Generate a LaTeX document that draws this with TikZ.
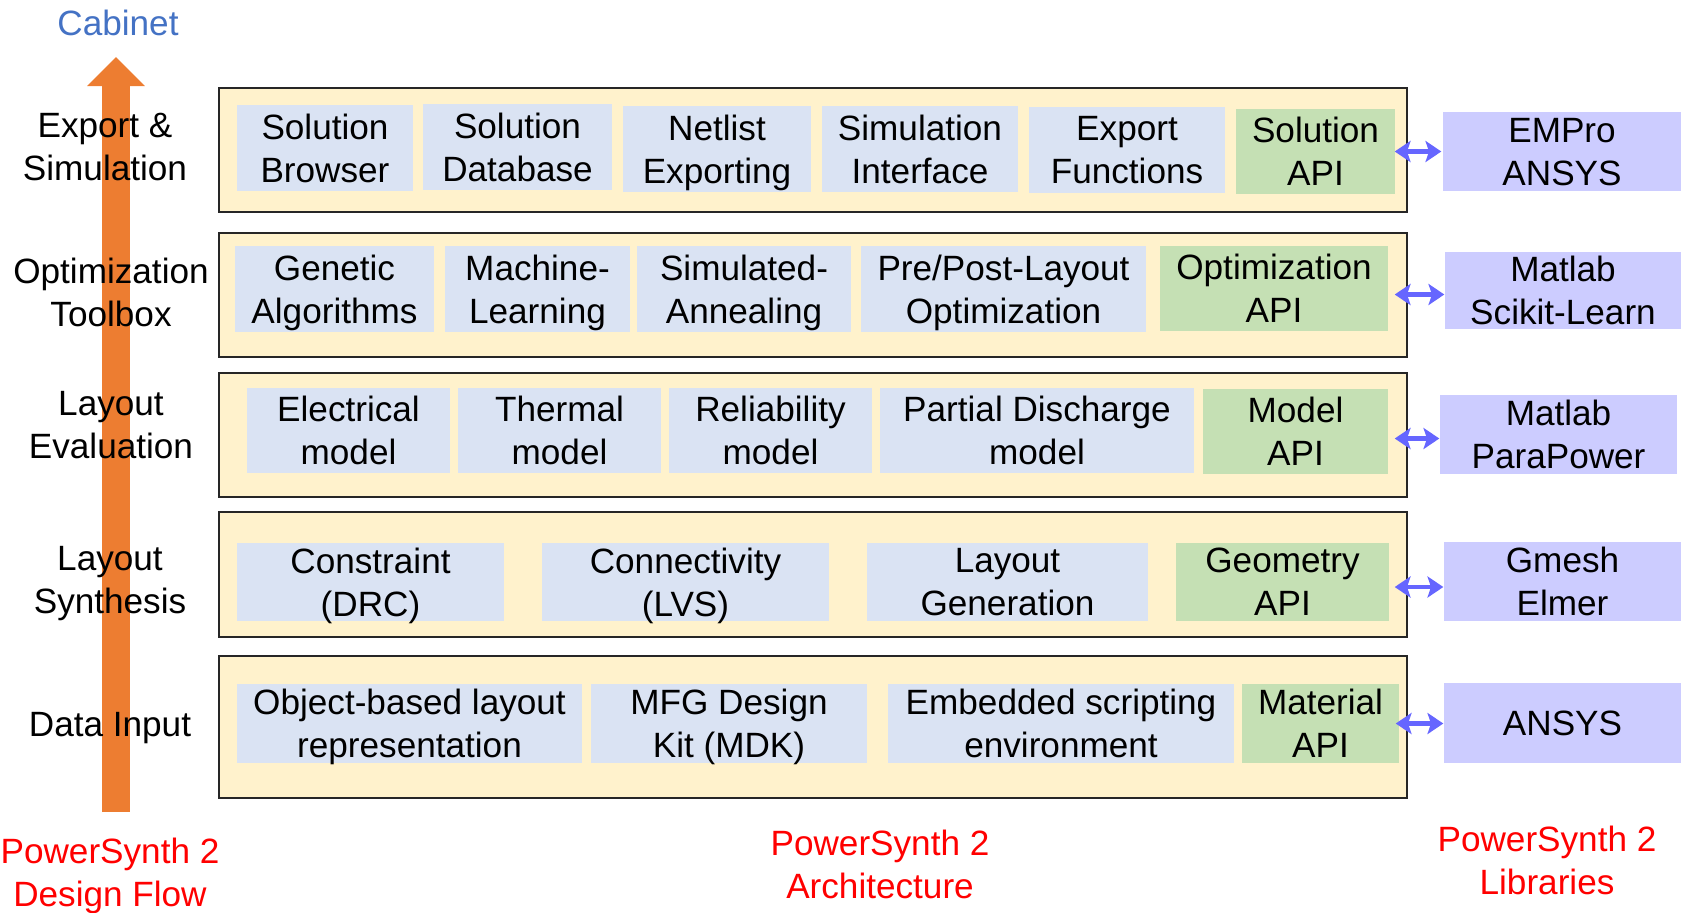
\documentclass[tikz,border=0pt]{standalone}
\usepackage{fontspec}
\setmainfont{Liberation Sans}
\usepackage{xcolor}
\usetikzlibrary{arrows.meta,positioning,calc}

\definecolor{layerfill}{HTML}{FFF2CC}
\definecolor{blockfill}{HTML}{DAE3F3}
\definecolor{apifill}{HTML}{C5E0B4}
\definecolor{libfill}{HTML}{CCCCFF}
\definecolor{linkcol}{HTML}{6666FF}
\definecolor{flowcol}{HTML}{ED7D31}
\definecolor{cabcol}{HTML}{4472C4}

\tikzset{
  every node/.style={font=\fontsize{10}{12.2}\selectfont, align=center,
    inner sep=0pt, text depth=0pt},
  layerbox/.style={draw=black!85, line width=0.6pt, fill=layerfill},
  blockbox/.style={fill=blockfill},
  apibox/.style={fill=apifill},
  libbox/.style={fill=libfill},
  link/.style={draw=linkcol, line width=1.4pt,
    {Stealth[length=4.5pt,width=6pt,inset=1pt]}-{Stealth[length=4.5pt,width=6pt,inset=1pt]}},
  flowarrow/.style={draw=flowcol, line width=0.28cm,
    -{Triangle[length=0.29cm,width=0.56cm]}},
  steplbl/.style={text=black},
  notelbl/.style={text=red}
}

\begin{document}
\begin{tikzpicture}
  \useasboundingbox (0,0) rectangle (16.81,-9.12);

  % Design flow arrow
  \coordinate (fbot) at (1.16,-8.12);
  \coordinate (ftop) at (1.16,-0.57);
  \draw[flowarrow] (fbot) -- (ftop);
  \node[text=cabcol] (cab) at (1.18,-0.23) {Cabinet};

  % Layers
  \node[layerbox, minimum width=11.88cm, minimum height=1.24cm] (L1) at (8.13,-1.50) {};
  \node[layerbox, minimum width=11.88cm, minimum height=1.24cm] (L2) at (8.13,-2.95) {};
  \node[layerbox, minimum width=11.88cm, minimum height=1.24cm] (L3) at (8.13,-4.35) {};
  \node[layerbox, minimum width=11.88cm, minimum height=1.25cm] (L4) at (8.13,-5.745) {};
  \node[layerbox, minimum width=11.88cm, minimum height=1.42cm] (L5) at (8.13,-7.27) {};

  % Flow step labels
  \node[steplbl] (s1) at (1.05,-1.47) {Export \&\\Simulation};
  \node[steplbl] (s2) at (1.11,-2.92) {Optimization\\Toolbox};
  \node[steplbl] (s3) at (1.11,-4.25) {Layout\\Evaluation};
  \node[steplbl] (s4) at (1.10,-5.80) {Layout\\Synthesis};
  \node[steplbl] (s5) at (1.10,-7.24) {Data Input};

  % Export & Simulation
  \node[blockbox, minimum width=1.76cm, minimum height=0.86cm] (sb) at (3.25,-1.48) {Solution\\Browser};
  \node[blockbox, minimum width=1.89cm, minimum height=0.86cm] (sd) at (5.175,-1.47) {Solution\\Database};
  \node[blockbox, minimum width=1.88cm, minimum height=0.86cm] (ne) at (7.17,-1.49) {Netlist\\Exporting};
  \node[blockbox, minimum width=1.96cm, minimum height=0.86cm] (si) at (9.20,-1.49) {Simulation\\Interface};
  \node[blockbox, minimum width=1.96cm, minimum height=0.86cm] (ef) at (11.27,-1.50) {Export\\Functions};
  \node[apibox, minimum width=1.59cm, minimum height=0.85cm] (sapi) at (13.155,-1.515) {Solution\\API};

  % Optimization Toolbox
  \node[blockbox, minimum width=1.99cm, minimum height=0.86cm] (ga) at (3.345,-2.89) {Genetic\\Algorithms};
  \node[blockbox, minimum width=1.85cm, minimum height=0.86cm] (ml) at (5.375,-2.89) {Machine-\\Learning};
  \node[blockbox, minimum width=2.14cm, minimum height=0.86cm] (sa) at (7.44,-2.89) {Simulated-\\Annealing};
  \node[blockbox, minimum width=2.85cm, minimum height=0.86cm] (pp) at (10.035,-2.89) {Pre/Post-Layout\\Optimization};
  \node[apibox, minimum width=2.28cm, minimum height=0.85cm] (oapi) at (12.74,-2.885) {Optimization\\API};

  % Layout Evaluation
  \node[blockbox, minimum width=2.03cm, minimum height=0.85cm] (em) at (3.485,-4.305) {Electrical\\model};
  \node[blockbox, minimum width=2.03cm, minimum height=0.85cm] (tm) at (5.595,-4.305) {Thermal\\model};
  \node[blockbox, minimum width=2.03cm, minimum height=0.85cm] (rm) at (7.705,-4.305) {Reliability\\model};
  \node[blockbox, minimum width=3.14cm, minimum height=0.85cm] (pd) at (10.37,-4.305) {Partial Discharge\\model};
  \node[apibox, minimum width=1.85cm, minimum height=0.85cm] (mapi) at (12.955,-4.315) {Model\\API};

  % Layout Synthesis
  \node[blockbox, minimum width=2.67cm, minimum height=0.78cm] (drc) at (3.705,-5.82) {Constraint\\(DRC)};
  \node[blockbox, minimum width=2.87cm, minimum height=0.78cm] (lvs) at (6.855,-5.82) {Connectivity\\(LVS)};
  \node[blockbox, minimum width=2.81cm, minimum height=0.78cm] (lg) at (10.075,-5.82) {Layout\\Generation};
  \node[apibox, minimum width=2.13cm, minimum height=0.78cm] (gapi) at (12.825,-5.82) {Geometry\\API};

  % Data Input
  \node[blockbox, minimum width=3.45cm, minimum height=0.79cm] (obj) at (4.095,-7.235) {Object-based layout\\representation};
  \node[blockbox, minimum width=2.76cm, minimum height=0.79cm] (mdk) at (7.29,-7.235) {MFG Design\\Kit (MDK)};
  \node[blockbox, minimum width=3.46cm, minimum height=0.79cm] (emb) at (10.61,-7.235) {Embedded scripting\\environment};
  \node[apibox, minimum width=1.57cm, minimum height=0.79cm] (matapi) at (13.205,-7.235) {Material\\API};

  % Libraries
  \node[libbox, minimum width=2.38cm, minimum height=0.79cm] (lib1) at (15.62,-1.515) {EMPro\\ANSYS};
  \node[libbox, minimum width=2.36cm, minimum height=0.77cm] (lib2) at (15.63,-2.905) {Matlab\\Scikit-Learn};
  \node[libbox, minimum width=2.37cm, minimum height=0.79cm] (lib3) at (15.585,-4.345) {Matlab\\ParaPower};
  \node[libbox, minimum width=2.37cm, minimum height=0.79cm] (lib4) at (15.625,-5.815) {Gmesh\\Elmer};
  \node[libbox, minimum width=2.37cm, minimum height=0.80cm] (lib5) at (15.625,-7.23) {ANSYS};

  \draw[link] ($(sapi.east)+(-0.01,0)$) -- ($(sapi.east -| lib1.west)+(-0.01,0)$);
  \draw[link] ($(oapi.east)+(0.06,-0.06)$) -- ($(oapi.east -| lib2.west)+(0,-0.06)$);
  \draw[link] ($(mapi.east)+(0.06,-0.07)$) -- ($(mapi.east -| lib3.west)+(0,-0.07)$);
  \draw[link] ($(gapi.east)+(0.05,-0.05)$) -- ($(gapi.east -| lib4.west)+(0,-0.05)$);
  \draw[link] ($(matapi.east)+(-0.04,0)$) -- (matapi.east -| lib5.west);

  % Bottom captions
  \node[notelbl] (n1) at (1.10,-8.72) {PowerSynth 2\\Design Flow};
  \node[notelbl] (n2) at (8.80,-8.64) {PowerSynth 2\\Architecture};
  \node[notelbl] (n3) at (15.47,-8.60) {PowerSynth 2\\Libraries};
\end{tikzpicture}
\end{document}
